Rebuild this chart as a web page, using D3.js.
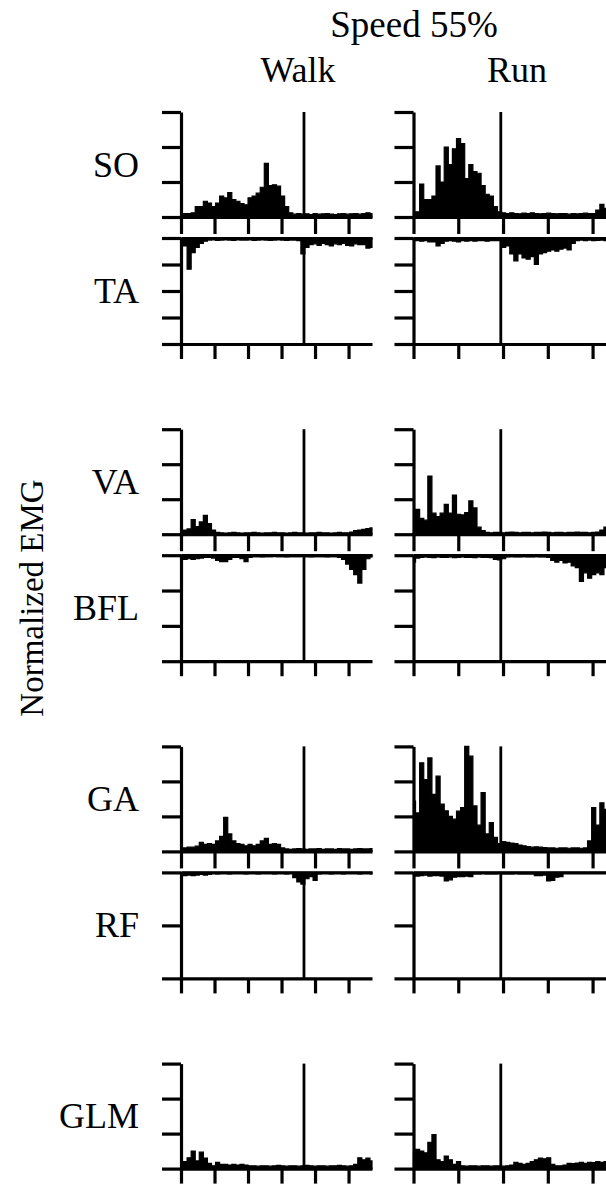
<!DOCTYPE html>
<html>
<head>
<meta charset="utf-8">
<script src="https://cdn.jsdelivr.net/npm/d3@7"></script>
<style>
  body { margin: 0; background: #fff; }
  text { font-family: "Liberation Serif", "Times New Roman", serif; fill: #000; }
</style>
</head>
<body>
<svg id="chart" width="606" height="1186"></svg>
<script>
// ---- data (normalized EMG, 48 samples spread over the plotted time window) ----
const walkDur = 1.14, runDur = 0.86;       // seconds shown in each column
const walkStance = 0.734, runStance = 0.39; // end of stance (vertical line)
const timeTicks = [0, 0.2, 0.4, 0.6, 0.8, 1.0];

const muscles = ['SO', 'TA', 'VA', 'BFL', 'GA', 'RF', 'GLM'];
const tickCounts = [3, 4, 3, 3, 3, 2, 3]; // tick intervals on each y axis

const soWalk = [0.05,0.1,0.1,0.12,0.3,0.3,0.45,0.4,0.3,0.4,0.6,0.55,0.7,0.5,0.45,0.38,0.35,0.55,0.6,0.68,0.85,1.53,0.9,0.92,0.88,0.6,0.3,0.12,
  0.08,0.1,0.08,0.09,0.07,0.1,0.08,0.09,0.1,0.08,0.07,0.09,0.1,0.08,0.09,0.1,0.08,0.1,0.12,0.1];
const soRun = [0.12,0.15,0.94,0.5,0.5,0.6,1.46,1.0,2.0,1.5,1.95,2.24,2.1,1.1,1.5,1.3,1.25,0.9,0.65,0.6,0.3,0.15,0.12,
  0.1,0.12,0.1,0.09,0.11,0.1,0.12,0.1,0.09,0.1,0.11,0.1,0.09,0.1,0.1,0.08,0.1,0.09,0.1,0.11,0.1,0.1,0.2,0.36,0.25];
const taWalk = [0.1,0.3,1.18,0.55,0.35,0.2,0.12,
  0.08,0.07,0.09,0.08,0.07,0.08,0.09,0.07,0.08,0.08,0.07,0.09,0.08,0.07,0.08,0.09,0.08,0.07,0.08,0.09,0.08,0.08,0.1,
  0.6,0.35,0.25,0.22,0.28,0.2,0.25,0.3,0.22,0.25,0.2,0.28,0.3,0.22,0.25,0.25,0.38,0.35];
const taRun = [0.1,0.1,0.12,0.1,0.15,0.15,0.3,0.2,
  0.12,0.1,0.12,0.15,0.1,0.12,0.1,0.12,0.1,0.1,0.12,0.1,0.1,0.1,
  0.35,0.3,0.6,0.86,0.6,0.75,0.8,0.7,1.0,0.6,0.55,0.5,0.45,0.5,0.42,0.38,0.45,0.2,
  0.1,0.08,0.1,0.08,0.1,0.09,0.08,0.1];
const vaWalk = [0.08,0.12,0.15,0.42,0.22,0.35,0.54,0.3,0.12,0.05,
  0.04,0.03,0.04,0.05,0.04,0.03,0.04,0.04,0.05,0.04,0.03,0.04,0.04,0.05,0.04,0.04,0.03,0.04,0.05,0.04,0.04,0.03,0.04,0.04,0.05,0.04,0.04,0.03,0.04,0.05,0.04,0.04,
  0.06,0.1,0.12,0.14,0.16,0.18];
const vaRun = [0.1,0.71,0.45,0.4,1.66,0.6,0.5,0.6,0.85,0.6,1.12,0.57,0.55,0.62,0.95,0.75,0.2,0.1,
  0.05,0.04,0.05,0.05,0.04,0.05,0.06,0.05,0.04,0.05,0.05,0.04,0.05,0.05,0.06,0.05,0.04,0.05,0.05,0.04,0.05,0.05,0.06,0.05,0.05,0.04,0.05,0.06,
  0.12,0.2];
const bflWalk = [0.08,0.12,0.1,0.12,0.1,0.08,0.06,0.06,0.08,0.15,0.18,0.18,0.12,0.06,0.06,0.1,0.18,0.06,
  0.04,0.04,0.05,0.04,0.04,0.03,0.04,0.04,0.05,0.04,0.04,0.04,0.03,0.04,0.05,0.04,0.04,0.04,0.05,0.04,0.04,0.06,
  0.12,0.25,0.4,0.55,0.79,0.4,0.1,0.05];
const bflRun = [0.2,0.08,
  0.06,0.05,0.06,0.07,0.05,0.06,0.06,0.05,0.07,0.06,0.05,0.06,0.06,0.07,0.05,0.06,0.06,0.07,
  0.12,0.13,0.1,
  0.05,0.04,0.05,0.05,0.04,0.05,0.05,0.04,0.05,0.05,0.06,
  0.15,0.2,0.15,0.22,0.2,0.3,0.35,0.74,0.5,0.65,0.55,0.5,0.55,0.35];
const gaWalk = [0.08,0.1,0.12,0.12,0.15,0.26,0.2,0.22,0.2,0.3,0.43,0.97,0.5,0.3,0.22,0.2,0.16,0.2,0.16,0.2,0.3,0.37,0.2,0.22,0.2,0.1,
  0.07,0.06,0.07,0.08,0.07,0.06,0.07,0.07,0.08,0.06,0.07,0.07,0.06,0.08,0.07,0.07,0.06,0.07,0.08,0.07,0.07,0.08];
const gaRun = [1.44,1.1,2.53,2.05,2.67,1.63,2.15,1.35,1.16,1.0,0.92,1.15,1.25,3.0,2.72,1.3,0.75,1.68,0.5,0.82,0.4,0.22,
  0.28,0.26,0.24,0.22,0.18,0.16,
  0.14,0.12,0.13,0.12,0.11,0.1,0.1,0.09,0.1,0.1,0.09,0.1,0.1,0.09,0.1,
  0.3,1.25,0.75,1.39,1.2];
const rfWalk = [0.05,0.06,0.05,0.06,0.05,0.04,0.05,0.04,
  0.02,0.03,0.02,0.02,0.03,0.02,0.02,0.02,0.03,0.02,0.02,0.03,0.02,0.02,0.02,0.03,0.02,0.02,0.03,0.02,
  0.1,0.18,0.22,0.12,0.08,0.15,
  0.03,0.02,0.02,0.03,0.02,0.02,0.03,0.02,0.02,0.02,0.03,0.02,0.02,0.03];
const rfRun = [0.06,0.07,0.06,0.05,0.07,0.06,0.06,0.07,
  0.16,0.14,
  0.09,0.08,0.08,0.07,0.08,
  0.03,0.03,0.02,0.03,0.03,0.03,0.02,0.03,0.03,0.03,0.02,0.03,0.03,0.03,0.03,
  0.06,0.06,0.05,
  0.16,0.15,
  0.09,0.08,
  0.02,0.02,0.02,0.02,0.02,0.02,0.02,0.02,0.02,0.02,0.02];
const glmWalk = [0.15,0.2,0.31,0.5,0.22,0.47,0.3,0.15,0.08,0.18,0.12,0.12,0.1,0.12,0.1,0.12,0.1,0.08,
  0.08,0.07,0.08,0.08,0.07,0.08,0.09,0.08,0.07,0.08,0.08,0.07,0.08,0.09,0.08,0.07,0.08,0.08,0.07,0.08,0.08,0.09,0.08,0.07,0.08,
  0.12,0.31,0.25,0.3,0.22];
const glmRun = [0.45,0.55,0.5,0.45,0.75,0.97,0.25,0.2,0.36,0.25,0.12,0.2,
  0.08,0.07,0.08,0.08,0.07,0.08,0.08,0.07,0.08,0.08,0.07,0.08,0.1,
  0.18,0.15,0.12,0.15,0.2,0.25,0.3,0.28,0.31,0.12,0.08,0.08,0.1,0.15,0.14,0.16,0.18,0.15,0.18,0.17,0.2,0.18,0.2];

const emg = {
  SO: { walk: soWalk, run: soRun },
  TA: { walk: taWalk, run: taRun },
  VA: { walk: vaWalk, run: vaRun },
  BFL: { walk: bflWalk, run: bflRun },
  GA: { walk: gaWalk, run: gaRun },
  RF: { walk: rfWalk, run: rfRun },
  GLM: { walk: glmWalk, run: glmRun }
};

// ---- layout ----
const svg = d3.select('#chart');
const groupPitch = 317.2, firstTop = 112, upH = 105, gapH = 21, downH = 106;

const conds = [
  { key: 'walk', x0: 181, x1: 372, dur: walkDur, stance: walkStance, label: 'Walk', lx: 298 },
  { key: 'run', x0: 413.5, x1: 606, dur: runDur, stance: runStance, label: 'Run', lx: 517 }
];

// panels: upper ones point up, lower ones hang down from their zero line
const panels = muscles.map((m, i) => {
  const g = Math.floor(i / 2);
  const top = firstTop + g * groupPitch;
  if (i % 2 === 0) {
    return { name: m, up: true, zero: top + upH, end: top, n: tickCounts[i], last: i === muscles.length - 1 };
  }
  const zero = top + upH + gapH;
  return { name: m, up: false, zero: zero, end: zero + downH, n: tickCounts[i], last: true };
});

const lineW = 3.2;

panels.forEach(p => {
  conds.forEach(c => {
    var x = d3.scaleLinear().domain([0, c.dur]).range([c.x0, c.x1]);
    var y = d3.scaleLinear().domain([0, p.n]).range([p.zero, p.end]);
    var vals = emg[p.name][c.key];
    var step = c.dur / (vals.length - 1);

    var area = d3.area()
      .curve(d3.curveStep)
      .x((d, i) => x(i * step))
      .y0(y(0))
      .y1(d => y(d));

    svg.append('path')
      .datum(vals)
      .attr('d', area)
      .attr('fill', '#000')
      .attr('stroke', '#000')
      .attr('stroke-width', 1.2);

    // stance / swing line
    svg.append('line')
      .attr('x1', x(c.stance)).attr('x2', x(c.stance))
      .attr('y1', y(0)).attr('y2', y(p.n))
      .attr('stroke', '#000')
      .attr('stroke-width', 2.8);

    // y axis
    var yAxis = d3.axisLeft(y)
      .tickValues(d3.range(0, p.n + 1))
      .tickFormat('')
      .tickSize(19)
      .tickSizeOuter(0);
    svg.append('g')
      .attr('class', 'axis')
      .attr('transform', `translate(${c.x0},0)`)
      .call(yAxis);

    // zero line of a hanging panel (no ticks)
    if (!p.up) {
      svg.append('g')
        .attr('class', 'axis')
        .attr('transform', `translate(0,${p.zero})`)
        .call(d3.axisTop(x).tickValues([]).tickSizeOuter(0));
    }

    // time axis: at the zero of an upper panel, and at the bottom of a hanging one
    var axisY = p.up ? p.zero : p.end;
    var xAxis = d3.axisBottom(x)
      .tickValues(timeTicks.filter(t => t <= c.dur))
      .tickFormat('')
      .tickSize(p.up && !p.last ? 17 : 15)
      .tickSizeOuter(0);
    svg.append('g')
      .attr('class', 'axis')
      .attr('transform', `translate(0,${axisY})`)
      .call(xAxis);
  });

  // muscle label, centred on the panel
  svg.append('text')
    .attr('x', 139)
    .attr('y', (p.zero + p.end) / 2 + 12)
    .attr('text-anchor', 'end')
    .attr('font-size', 36)
    .text(p.name);
});

svg.selectAll('.axis path, .axis line')
  .attr('stroke', '#000')
  .attr('stroke-width', lineW);

// titles
svg.append('text')
  .attr('x', 414)
  .attr('y', 37)
  .attr('text-anchor', 'middle')
  .attr('font-size', 37)
  .text('Speed 55%');

conds.forEach(c => {
  svg.append('text')
    .attr('x', c.lx)
    .attr('y', 82)
    .attr('text-anchor', 'middle')
    .attr('font-size', 36)
    .text(c.label);
});

svg.append('text')
  .attr('transform', 'translate(43,598) rotate(-90)')
  .attr('text-anchor', 'middle')
  .attr('font-size', 33)
  .text('Normalized EMG');
</script>
</body>
</html>
